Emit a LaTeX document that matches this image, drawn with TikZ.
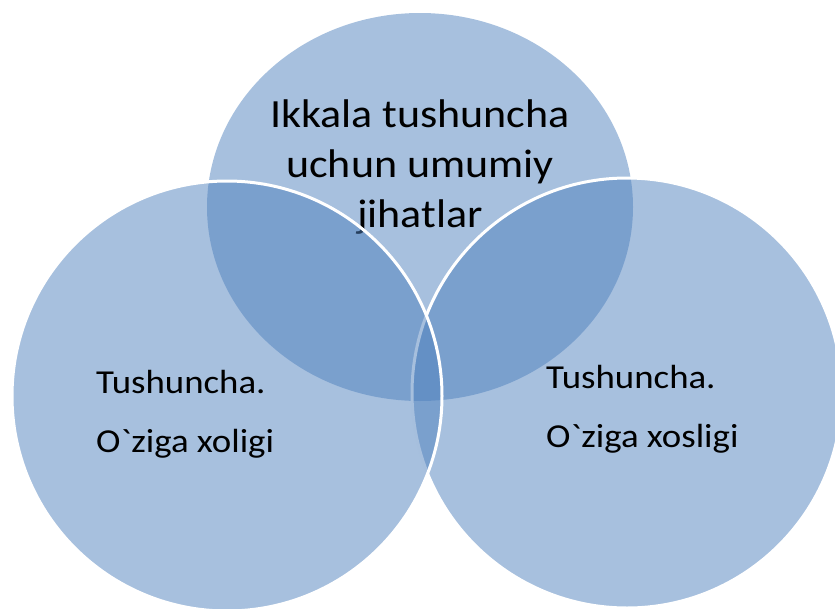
\documentclass[tikz,border=0pt]{standalone}
\usepackage{fontspec}
\setmainfont[FakeStretch=1.1, Ligatures=TeXOff]{Carlito}
\usetikzlibrary{shapes.geometric}
\definecolor{vennblue}{RGB}{79,129,189}
\begin{document}
\begin{tikzpicture}[x=1pt,y=-1pt,
  venn/.style={fill=vennblue, fill opacity=0.5, inner sep=0pt, outer sep=0pt},
  vennline/.style={draw=white, line width=3pt},
  bigtext/.style={font=\fontsize{40}{50}\selectfont, align=center, text=black, inner sep=0pt},
  sidetext/.style={font=\fontsize{33.5}{59}\selectfont, align=left, text=black, inner sep=0pt, anchor=base west}]
\useasboundingbox (0,0) rectangle (835,608);
\clip (0,0) rectangle (835,608);
\node[venn, ellipse, minimum width=426pt, minimum height=388pt] (top) at (420,207) {};
\node[bigtext, anchor=base] (toptext) at (420,227) {Ikkala tushuncha\\uchun umumiy\\jihatlar};
\node[venn, vennline, circle, minimum size=430pt] (right) at (627,393) {};
\node[sidetext] (righttext) at (546,447) {Tushuncha.\\O`ziga xosligi};
\node[venn, vennline, circle, minimum size=430pt] (left) at (227,396) {};
\node[sidetext] (lefttext) at (96,452) {Tushuncha.\\O`ziga xoligi};
\end{tikzpicture}
\end{document}
